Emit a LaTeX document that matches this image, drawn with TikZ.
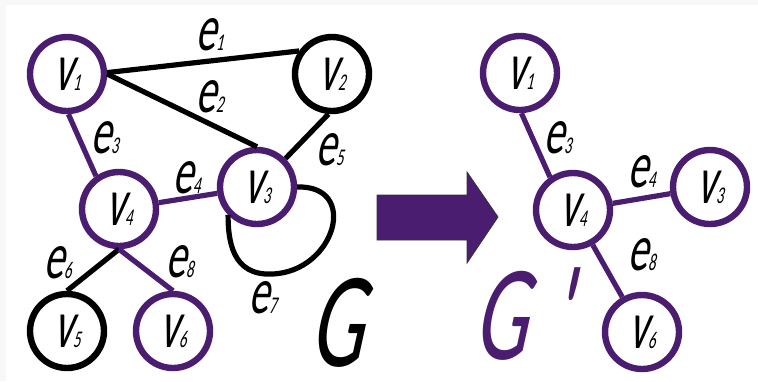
\documentclass[tikz,border=0pt]{standalone}
\usepackage{fontspec}
\usetikzlibrary{positioning}
\newfontfamily\gfont{Carlito}[FakeStretch=0.62, FakeSlant=0.22]
\definecolor{uwpurple}{RGB}{74,29,112}
\definecolor{edgegray}{RGB}{248,248,248}
\newcommand{\lbl}[2]{#1{\fontsize{12}{12}\selectfont #2}}
\tikzstyle{vertex}    = [draw, circle, line width=3.2pt, minimum size=37pt, inner sep=0pt, font=\gfont\fontsize{34}{34}\selectfont]
\tikzstyle{kept}      = [vertex, draw=uwpurple]
\tikzstyle{dropped}   = [vertex, draw=black]
\tikzstyle{edge}      = [line width=2.6pt, black]
\tikzstyle{keptedge}  = [line width=2.6pt, uwpurple]
\tikzstyle{elabel}    = [anchor=base west, inner sep=0pt, font=\gfont\fontsize{33}{33}\selectfont]
\tikzstyle{gname}     = [anchor=base west, inner sep=0pt, font=\gfont\fontsize{68}{68}\selectfont]

\begin{document}
\begin{tikzpicture}[x=0.5pt, y=-0.5pt]

        % Rahmen
        \fill[edgegray] (0,0) rectangle (758,381);
        \fill[white] (6,5) rectangle (758,381);
        \useasboundingbox (0,0) rectangle (758,381);

        % Graph G
        \node[kept]    (v1) at (67,74)   {\lbl{v}{1}};
        \node[dropped] (v2) at (332,74)  {\lbl{v}{2}};
        \node[kept]    (v3) at (257,187) {\lbl{v}{3}};
        \node[kept]    (v4) at (119,209) {\lbl{v}{4}};
        \node[dropped] (v5) at (67,331)  {\lbl{v}{5}};
        \node[kept]    (v6) at (173,331) {\lbl{v}{6}};

        \draw[edge] (v1.2) -- (v2.145);
        \draw[edge] (v1.east) -- (v3.north);
        \draw[keptedge] (v1.-88) -- (v4.125);
        \draw[keptedge] (v4) -- (v3);
        \draw[edge] (v2.-95) -- (v3.45);
        \draw[edge] (v4.south) -- (v5.north);
        \draw[keptedge] (v4.south) -- (v6.north);
        \draw[edge] (v3.east) .. controls (360,185) and (335,272) .. (272,274)
            .. controls (232,276) and (228,240) .. (v3.-136);

        % Kantenbeschriftung G
        \node[elabel] (le1) at (195,50)  {\lbl{e}{1}};
        \node[elabel] (le2) at (195,112) {\lbl{e}{2}};
        \node[elabel] (le3) at (90,153)  {\lbl{e}{3}};
        \node[elabel] (le4) at (172,193) {\lbl{e}{4}};
        \node[elabel] (le5) at (315,165) {\lbl{e}{5}};
        \node[elabel] (le6) at (43,278)  {\lbl{e}{6}};
        \node[elabel] (le8) at (165,277) {\lbl{e}{8}};
        \node[elabel] (le7) at (248,313) {\lbl{e}{7}};
        \node[gname]  (gG)  at (308,366) {G};

        % Pfeil
        \filldraw[fill=uwpurple, draw=black!80, line width=0.4pt]
            (377,195) -- (467,195) -- (467,172) -- (498,217)
            -- (467,263) -- (467,240) -- (377,240) -- cycle;

        % Graph G'
        \node[kept] (w1) at (520,73)  {\lbl{v}{1}};
        \node[kept] (w4) at (573,210) {\lbl{v}{4}};
        \node[kept] (w3) at (710,187) {\lbl{v}{3}};
        \node[kept] (w6) at (642,332) {\lbl{v}{6}};

        \draw[keptedge] (w1.-88) -- (w4.125);
        \draw[keptedge] (w4) -- (w3);
        \draw[keptedge] (w4) -- (w6);

        \node[elabel] (me3) at (543,153) {\lbl{e}{3}};
        \node[elabel] (me4) at (627,187) {\lbl{e}{4}};
        \node[elabel] (me8) at (627,270) {\lbl{e}{8}};
        \node[gname, text=uwpurple] (gH) at (472,359) {G\,'};

    \end{tikzpicture}
\end{document}
